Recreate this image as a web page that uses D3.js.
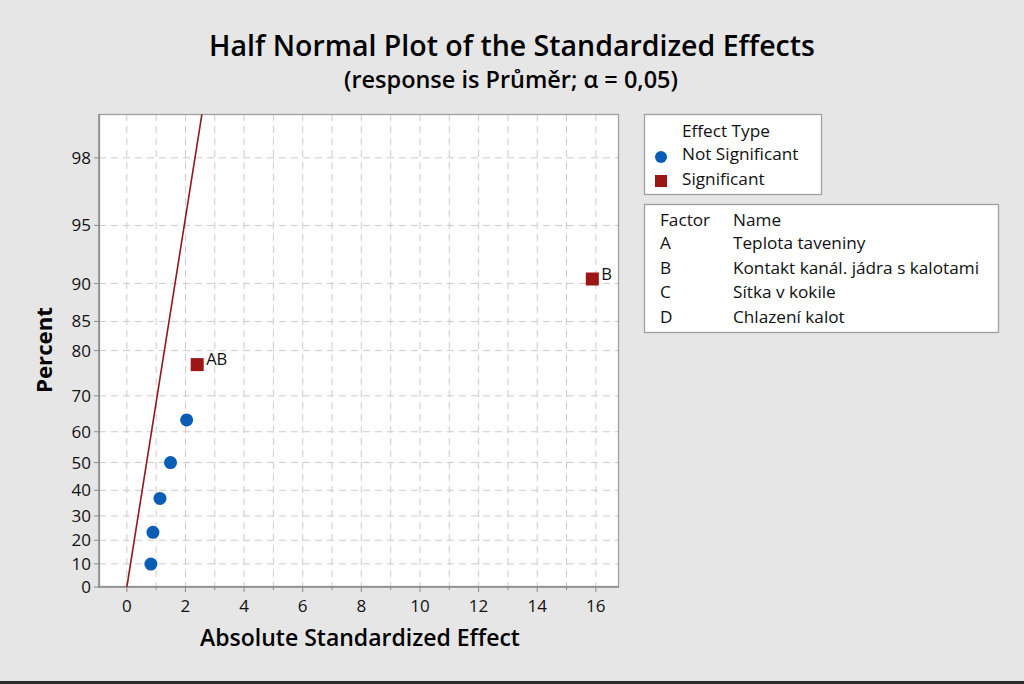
<!DOCTYPE html>
<html>
<head>
<meta charset="utf-8">
<script src="https://cdn.jsdelivr.net/npm/d3@7"></script>
<style>
  html, body { margin: 0; padding: 0; background: #e6e6e6; }
  svg { display: block; font-family: "Open Sans", "Noto Sans", sans-serif; }
</style>
</head>
<body>
<svg id="chart" width="1024" height="684"></svg>
<script>
// ---------------- data ----------------
const effectTerms   = ["E1", "E2", "E3", "E4", "E5", "AB", "B"];
const effectValues  = [0.82, 0.89, 1.13, 1.49, 2.04, 2.40, 15.88];
const effectPercent = [9.9, 23.3, 36.9, 50.0, 63.5, 77.2, 90.5];
const effectSignificant = [false, false, false, false, false, true, true];
const effectLabels  = ["", "", "", "", "", "AB", "B"];

// reference line end points (effect, percent)
const refLineEffect  = [0, 2.56];
const refLinePercent = [0, 98.96];

const yTickValues = [0, 10, 20, 30, 40, 50, 60, 70, 80, 85, 90, 95, 98];
const xTickValues = [0, 2, 4, 6, 8, 10, 12, 14, 16];
const xGridValues = [0,1,2,3,4,5,6,7,8,9,10,11,12,13,14,15,16];

const legendTypes = ["Not Significant", "Significant"];
const factorCodes = ["A", "B", "C", "D"];
const factorNames = ["Teplota taveniny", "Kontakt kanál. jádra s kalotami", "Sítka v kokile", "Chlazení kalot"];

const titleText = "Half Normal Plot of the Standardized Effects";
const subtitleText = "(response is Průměr; α = 0,05)";
const xTitle = "Absolute Standardized Effect";
const yTitle = "Percent";

// ---------------- helpers ----------------
function invNorm(p) {
  const a = [-3.969683028665376e+01, 2.209460984245205e+02, -2.759285104469687e+02, 1.383577518672690e+02, -3.066479806614716e+01, 2.506628277459239e+00];
  const b = [-5.447609879822406e+01, 1.615858368580409e+02, -1.556989798598866e+02, 6.680131188771972e+01, -1.328068155288572e+01];
  const c = [-7.784894002430293e-03, -3.223964580411365e-01, -2.400758277161838e+00, -2.549671010115946e+00, 4.374664141464968e+00, 2.938163982698783e+00];
  const d = [7.784695709041462e-03, 3.224671290700398e-01, 2.445134137142996e+00, 3.754408661907416e+00];
  const pl = 0.02425, ph = 1 - pl;
  let q, r;
  if (p < pl) {
    q = Math.sqrt(-2 * Math.log(p));
    return (((((c[0]*q+c[1])*q+c[2])*q+c[3])*q+c[4])*q+c[5]) / ((((d[0]*q+d[1])*q+d[2])*q+d[3])*q+1);
  } else if (p <= ph) {
    q = p - 0.5; r = q*q;
    return (((((a[0]*r+a[1])*r+a[2])*r+a[3])*r+a[4])*r+a[5])*q / (((((b[0]*r+b[1])*r+b[2])*r+b[3])*r+b[4])*r+1);
  } else {
    q = Math.sqrt(-2 * Math.log(1 - p));
    return -(((((c[0]*q+c[1])*q+c[2])*q+c[3])*q+c[4])*q+c[5]) / ((((d[0]*q+d[1])*q+d[2])*q+d[3])*q+1);
  }
}
const halfZ = pct => pct <= 0 ? 0 : invNorm(0.5 + pct / 200);

function fitText(sel, width) {
  const node = sel.node();
  const fs = parseFloat(sel.attr("font-size"));
  const w = node.getComputedTextLength();
  if (w > 0) sel.attr("font-size", (fs * width / w).toFixed(2));
}

// ---------------- layout ----------------
const svg = d3.select("#chart");
const L = 99, R = 619, T = 114, B = 587;

svg.append("rect").attr("x", 0).attr("y", 0).attr("width", 1024).attr("height", 684).attr("fill", "#e6e6e6");
svg.append("rect").attr("x", 0).attr("y", 681).attr("width", 1024).attr("height", 3).attr("fill", "#2b2b2b");

const x = d3.scaleLinear().domain([-0.95, 16.79]).range([L, R]);
const zScale = d3.scaleLinear().domain([0, 2.564]).range([B, T]);
const y = pct => zScale(halfZ(pct));

// plot background
svg.append("rect").attr("x", L).attr("y", T).attr("width", R - L).attr("height", B - T).attr("fill", "#ffffff");

// grid
const grid = svg.append("g");
grid.selectAll("line.v").data(xGridValues).join("line")
  .attr("x1", d => x(d)).attr("x2", d => x(d)).attr("y1", T).attr("y2", B)
  .attr("stroke", "#cccccc").attr("stroke-width", 1).attr("stroke-dasharray", "7,5");
grid.selectAll("line.h").data(yTickValues.filter(d => d > 0)).join("line")
  .attr("x1", L).attr("x2", R).attr("y1", d => y(d)).attr("y2", d => y(d))
  .attr("stroke", "#cccccc").attr("stroke-width", 1).attr("stroke-dasharray", "7,5");

// border
svg.append("rect").attr("x", L + 0.5).attr("y", T + 0.5).attr("width", R - L - 1).attr("height", B - T - 1)
  .attr("fill", "none").attr("stroke", "#a0a0a0").attr("stroke-width", 1.3);
svg.append("line").attr("x1", L).attr("x2", L).attr("y1", T).attr("y2", B + 1).attr("stroke", "#8a8a8a").attr("stroke-width", 1.5);
svg.append("line").attr("x1", L).attr("x2", R).attr("y1", B).attr("y2", B).attr("stroke", "#8a8a8a").attr("stroke-width", 1.5);

// x axis ticks
const xAxisG = svg.append("g").attr("transform", `translate(0,${B})`);
xAxisG.selectAll("line.minor").data(xGridValues).join("line")
  .attr("x1", d => x(d)).attr("x2", d => x(d)).attr("y1", 0).attr("y2", d => d % 2 === 0 ? 5 : 3)
  .attr("stroke", "#8a8a8a").attr("stroke-width", 1);
xAxisG.selectAll("text").data(xTickValues).join("text")
  .attr("x", d => x(d)).attr("y", 25).attr("text-anchor", "middle")
  .attr("font-size", 17).attr("fill", "#111").text(d => d);

// y axis ticks
const yAxisG = svg.append("g").attr("transform", `translate(${L},0)`);
yAxisG.selectAll("line").data(yTickValues).join("line")
  .attr("x1", -5).attr("x2", 0).attr("y1", d => y(d)).attr("y2", d => y(d))
  .attr("stroke", "#8a8a8a").attr("stroke-width", 1);
yAxisG.selectAll("text").data(yTickValues).join("text")
  .attr("x", -8).attr("y", d => y(d)).attr("dy", "0.35em").attr("text-anchor", "end")
  .attr("font-size", 17).attr("fill", "#111").text(d => d);

// reference line
const clip = svg.append("clipPath").attr("id", "clipPlot");
clip.append("rect").attr("x", L).attr("y", T).attr("width", R - L).attr("height", B - T);
svg.append("path")
  .datum(refLineEffect.map((e, i) => [e, refLinePercent[i]]))
  .attr("clip-path", "url(#clipPlot)")
  .attr("d", d3.line().x(d => x(d[0])).y(d => y(d[1])))
  .attr("fill", "none").attr("stroke", "#8e1a1f").attr("stroke-width", 1.6);

// points
const blue = "#0a5db5", red = "#9c1616";
const pts = effectValues.map((v, i) => ({v, p: effectPercent[i], sig: effectSignificant[i], lab: effectLabels[i]}));
const pg = svg.append("g");
pg.selectAll("circle").data(pts.filter(d => !d.sig)).join("circle")
  .attr("cx", d => x(d.v)).attr("cy", d => y(d.p)).attr("r", 6.5).attr("fill", blue);
pg.selectAll("rect").data(pts.filter(d => d.sig)).join("rect")
  .attr("x", d => x(d.v) - 6.5).attr("y", d => y(d.p) - 6.5).attr("width", 13).attr("height", 13).attr("fill", red);
pg.selectAll("text").data(pts.filter(d => d.lab)).join("text")
  .attr("x", d => x(d.v) + 9).attr("y", d => y(d.p) - 1).attr("dy", "0.1em")
  .attr("font-size", 16.5).attr("fill", "#111").text(d => d.lab);

// titles
const t1 = svg.append("text").attr("x", 512).attr("y", 56).attr("text-anchor", "middle")
  .attr("font-size", 26).attr("font-weight", 600).attr("fill", "#000").text(titleText);
fitText(t1, 606);
const t2 = svg.append("text").attr("x", 511).attr("y", 88).attr("text-anchor", "middle")
  .attr("font-size", 20).attr("font-weight", 600).attr("fill", "#000").text(subtitleText);
fitText(t2, 334);
const xt = svg.append("text").attr("x", 360).attr("y", 646).attr("text-anchor", "middle")
  .attr("font-size", 21).attr("font-weight", 600).attr("fill", "#000").text(xTitle);
fitText(xt, 320);
const yt = svg.append("text").attr("transform", "translate(52,350) rotate(-90)").attr("text-anchor", "middle")
  .attr("font-size", 21).attr("font-weight", 700).attr("fill", "#000").text(yTitle);
fitText(yt, 86);

// legend 1
const lgFont = 17.2;
const lg1 = svg.append("g").attr("transform", "translate(644,114)");
lg1.append("rect").attr("x", 0.5).attr("y", 0.5).attr("width", 177).attr("height", 80)
  .attr("fill", "#ffffff").attr("stroke", "#a0a0a0").attr("stroke-width", 1.3);
lg1.append("text").attr("x", 38).attr("y", 23).attr("font-size", lgFont).attr("fill", "#111").text("Effect Type");
lg1.append("circle").attr("cx", 17).attr("cy", 43).attr("r", 6).attr("fill", blue);
lg1.append("rect").attr("x", 11).attr("y", 61).attr("width", 12).attr("height", 12).attr("fill", red);
lg1.selectAll("text.item").data(legendTypes).join("text").attr("class", "item")
  .attr("x", 38).attr("y", (d, i) => 46 + i * 25).attr("font-size", lgFont).attr("fill", "#111").text(d => d);

// legend 2
const lg2 = svg.append("g").attr("transform", "translate(644,204)");
lg2.append("rect").attr("x", 0.5).attr("y", 0.5).attr("width", 354).attr("height", 128)
  .attr("fill", "#ffffff").attr("stroke", "#a0a0a0").attr("stroke-width", 1.3);
lg2.append("text").attr("x", 16).attr("y", 22).attr("font-size", lgFont).attr("fill", "#111").text("Factor");
lg2.append("text").attr("x", 89).attr("y", 22).attr("font-size", lgFont).attr("fill", "#111").text("Name");
lg2.selectAll("text.code").data(factorCodes).join("text").attr("class", "code")
  .attr("x", 16).attr("y", (d, i) => 45 + i * 24.5).attr("font-size", lgFont).attr("fill", "#111").text(d => d);
lg2.selectAll("text.name").data(factorNames).join("text").attr("class", "name")
  .attr("x", 89).attr("y", (d, i) => 45 + i * 24.5).attr("font-size", lgFont).attr("fill", "#111").text(d => d);
</script>
</body>
</html>
